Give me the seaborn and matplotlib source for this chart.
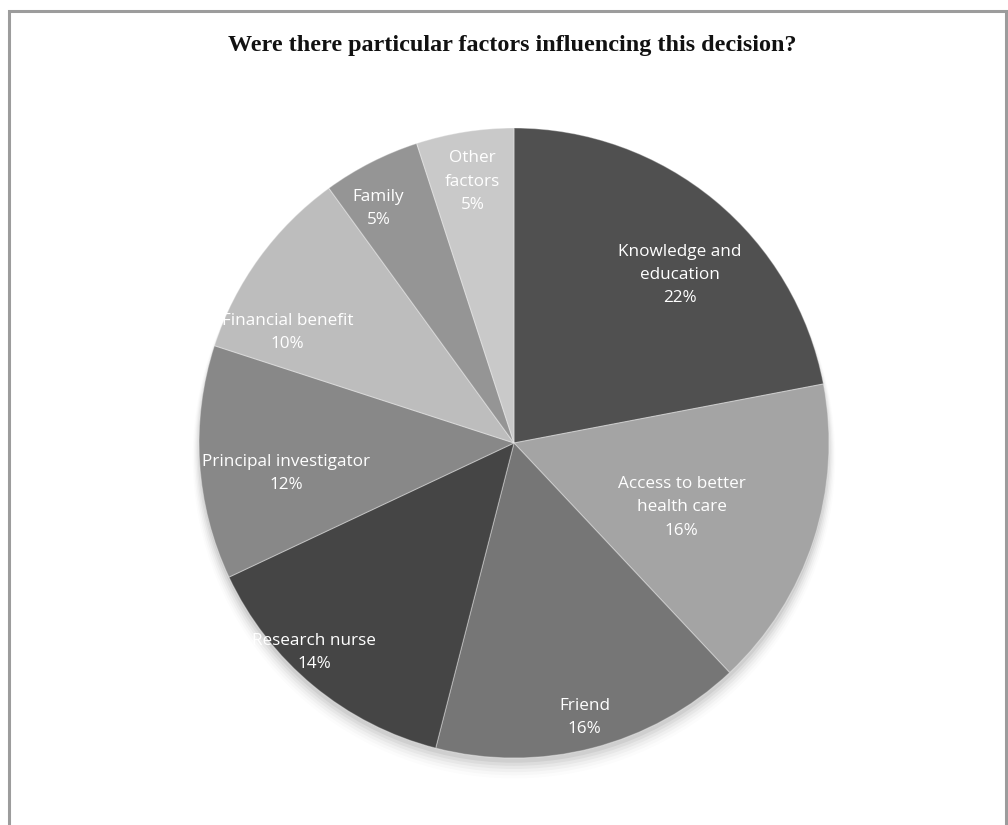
import matplotlib
matplotlib.use("Agg")
import matplotlib.pyplot as plt
import seaborn as sns
import numpy as np
from matplotlib.patches import Rectangle

# Survey responses: factors influencing the decision to take part
factors = [
    "Knowledge and\neducation",
    "Access to better\nhealth care",
    "Friend",
    "Research nurse",
    "Principal investigator",
    "Financial benefit",
    "Family",
    "Other\nfactors",
]
shares = [22, 16, 16, 14, 12, 10, 5, 5]

# Grey fills per slice
slice_colors = ["#505050", "#a4a4a4", "#767676", "#454545",
                "#888888", "#bdbdbd", "#959595", "#c9c9c9"]

# Label placement: fraction of radius and small angular nudge (degrees)
label_radius = [0.75, 0.57, 0.90, 0.92, 0.73, 0.80, 0.86, 0.84]
label_nudge = [-5, -3, 0, -4, 4, 10, 3, 0]

sns.set_theme(style="white")
plt.rcParams["font.family"] = ["Open Sans", "DejaVu Sans"]

fig = plt.figure(figsize=(10.08, 8.25), dpi=100)
fig.patch.set_facecolor("white")

# Outer frame (open at the bottom)
frame = Rectangle((9 / 1008, -0.05), (1006 - 9) / 1008, 1.05 - 11 / 825,
                  transform=fig.transFigure, fill=False,
                  edgecolor="#9c9c9c", linewidth=2.2, zorder=0)
fig.add_artist(frame)

R_px = 315
cx, cy = 514, 443
ax = fig.add_axes([(cx - R_px) / 1008, (825 - cy - R_px) / 825,
                   2 * R_px / 1008, 2 * R_px / 825])

# soft shadow beneath the pie
for i, a in enumerate(np.linspace(0.05, 0.01, 6)):
    sh = plt.Circle((0, -0.015 - 0.006 * i), 1.0 + 0.004 * i,
                    color="black", alpha=a, lw=0, zorder=0, clip_on=False)
    ax.add_patch(sh)

wedges, _ = ax.pie(shares, colors=slice_colors, startangle=90,
                   counterclock=False, radius=1.0,
                   wedgeprops=dict(edgecolor=(1, 1, 1, 0.35), linewidth=0.8))

for w, name, val, rf, nd in zip(wedges, factors, shares, label_radius, label_nudge):
    mid = np.deg2rad((w.theta1 + w.theta2) / 2 + nd)
    ax.text(rf * np.cos(mid), rf * np.sin(mid), f"{name}\n{val}%",
            ha="center", va="center", color="white", fontsize=12.3,
            linespacing=1.6, zorder=5)

ax.set_xlim(-1, 1)
ax.set_ylim(-1, 1)
ax.axis("off")

fig.text(512 / 1008, 1 - 45 / 825, "Were there particular factors influencing this decision?",
         ha="center", va="center", fontsize=17.4, fontweight="bold",
         family=["Liberation Serif", "DejaVu Serif"], color="#111111")

fig.savefig("out.png", dpi=100, facecolor="white")
